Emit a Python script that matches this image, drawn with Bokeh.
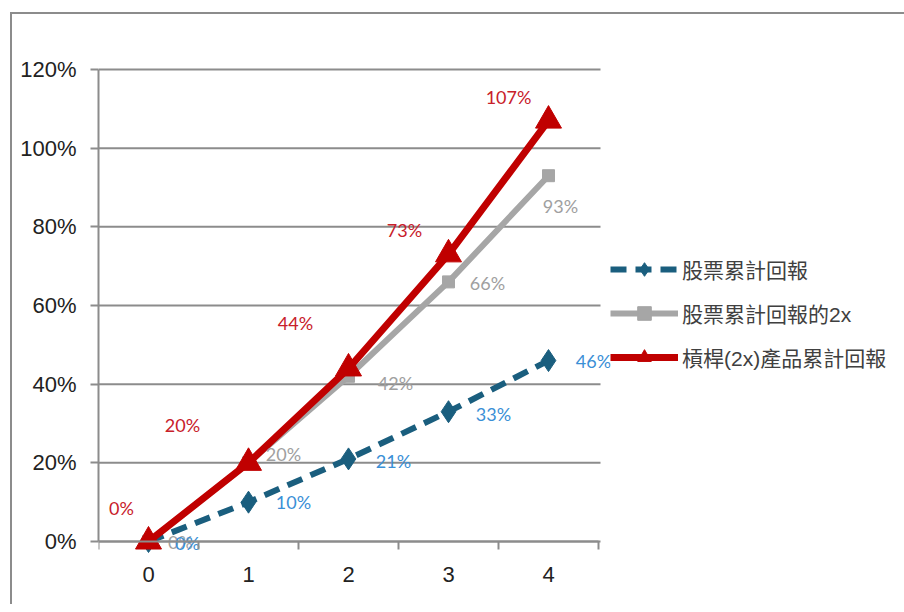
from bokeh.plotting import figure
from bokeh.models import (ColumnDataSource, FixedTicker, Legend, LegendItem,
                          CustomJSTickFormatter, Range1d)
from bokeh.core.properties import value
from bokeh.embed import file_html
from bokeh.resources import INLINE

# ---- data ----
years = [0, 1, 2, 3, 4]
stock = [0, 10, 21, 33, 46]
stock_2x = [0, 20, 42, 66, 93]
lev_2x = [0, 20, 44, 73, 107]
series_names = ["股票累計回報", "股票累計回報的2x", "槓桿(2x)產品累計回報"]
y_ticks = [0, 20, 40, 60, 80, 100, 120]

# ---- label offsets (screen px, dx right, dy down) ----
stock_off_x = [39, 45, 45, 45, 45]
stock_off_y = [1, 0, 2, 2, 0]
s2x_off_x = [32, 35, 47, 39, 12]
s2x_off_y = [0, -9, 7, 1, 30]
lev_off_x = [-27, -66, -53, -44, -40]
lev_off_y = [-34, -38, -45, -24, -24]

BLUE = "#1a5e7e"
GRAY = "#a6a6a6"
RED = "#c00000"
BLUE_TXT = "#3a8fd6"
GRAY_TXT = "#a0a0a0"
RED_TXT = "#c8202a"
AX = "#8c8c8c"

p = figure(frame_width=512, frame_height=540,
           x_range=Range1d(-0.5, 4.62), y_range=Range1d(-12.2, 125.08),
           output_backend="svg", toolbar_location=None,
           min_border_left=86, min_border_right=286, min_border_top=35,
           min_border_bottom=15)
p.styles = {"border-left": "2px solid #8c8c8c", "border-top": "2px solid #8c8c8c",
            "margin-left": "10px", "margin-top": "12px"}
p.outline_line_color = None
p.background_fill_color = "white"
p.border_fill_color = "white"

# gridlines (limited to the category area)
p.xgrid.grid_line_color = None
p.ygrid.grid_line_color = None
p.segment(x0=[-0.5] * len(y_ticks), x1=[4.52] * len(y_ticks), y0=y_ticks, y1=y_ticks,
          line_color=AX, line_width=2, level="underlay")

# axes
p.xaxis.ticker = FixedTicker(ticks=years, minor_ticks=[-0.5, 0.5, 1.5, 2.5, 3.5, 4.5])
p.xaxis.fixed_location = 0
p.xaxis.bounds = (-0.5, 4.5)
p.xaxis.major_tick_out = 0
p.xaxis.major_tick_in = 0
p.xaxis.minor_tick_out = 8
p.xaxis.minor_tick_in = 0
p.xaxis.minor_tick_line_color = AX
p.xaxis.minor_tick_line_width = 2
p.xaxis.axis_line_color = AX
p.xaxis.axis_line_width = 2
p.xaxis.major_label_text_font = "Liberation Sans"
p.xaxis.major_label_text_font_size = "22px"
p.xaxis.major_label_text_color = "#222222"
p.xaxis.major_label_standoff = 17

p.yaxis.ticker = FixedTicker(ticks=y_ticks)
p.yaxis.bounds = (0, 120)
p.yaxis.formatter = CustomJSTickFormatter(code="return tick.toFixed(0) + '%';")
p.yaxis.major_tick_out = 8
p.yaxis.major_tick_in = 0
p.yaxis.minor_tick_out = 0
p.yaxis.minor_tick_in = 0
p.yaxis.major_tick_line_color = AX
p.yaxis.major_tick_line_width = 2
p.yaxis.axis_line_color = AX
p.yaxis.axis_line_width = 2
p.yaxis.major_label_text_font = "Liberation Sans"
p.yaxis.major_label_text_font_size = "22px"
p.yaxis.major_label_text_color = "#222222"
p.yaxis.major_label_standoff = 14

# series
src_b = ColumnDataSource(dict(x=years, y=stock, t=[f"{v}%" for v in stock],
                              dx=stock_off_x, dy=stock_off_y))
src_g = ColumnDataSource(dict(x=years, y=stock_2x, t=[f"{v}%" for v in stock_2x],
                              dx=s2x_off_x, dy=s2x_off_y))
src_r = ColumnDataSource(dict(x=years, y=lev_2x, t=[f"{v}%" for v in lev_2x],
                              dx=lev_off_x, dy=lev_off_y))

lg = p.line("x", "y", source=src_g, line_color=GRAY, line_width=6)
sg = p.scatter("x", "y", source=src_g, marker="square", size=12,
               fill_color=GRAY, line_color=GRAY)
lb = p.line("x", "y", source=src_b, line_color=BLUE, line_width=6,
            line_dash="16 9")
sb = p.scatter("x", "y", source=src_b, marker="diamond", size=22,
               fill_color=BLUE, line_color=BLUE)
lr = p.line("x", "y", source=src_r, line_color=RED, line_width=7)
sr = p.scatter("x", "y", source=src_r, marker="triangle", size=26,
               fill_color=RED, line_color=RED)

label_font = value("Lato")
p.text("x", "y", text="t", source=src_g, x_offset="dx", y_offset="dy",
       text_align="center", text_baseline="middle", text_font=label_font,
       text_font_size="18px", text_color=GRAY_TXT)
p.text("x", "y", text="t", source=src_b, x_offset="dx", y_offset="dy",
       text_align="center", text_baseline="middle", text_font=label_font,
       text_font_size="18px", text_color=BLUE_TXT)
p.text("x", "y", text="t", source=src_r, x_offset="dx", y_offset="dy",
       text_align="center", text_baseline="middle", text_font=label_font,
       text_font_size="18px", text_color=RED_TXT)

legend = Legend(items=[
    LegendItem(label=series_names[0], renderers=[lb, sb]),
    LegendItem(label=series_names[1], renderers=[lg, sg]),
    LegendItem(label=series_names[2], renderers=[lr, sr]),
], location=(0, 215))
legend.border_line_color = None
legend.background_fill_alpha = 0
legend.glyph_width = 68
legend.glyph_height = 34
legend.label_text_font = "Liberation Sans, Noto Sans CJK TC"
legend.label_text_font_size = "21px"
legend.label_text_color = "#404040"
legend.label_standoff = 4
legend.spacing = 10
legend.padding = 0
legend.margin = 0
p.add_layout(legend, "right")

open("out.html", "w").write(file_html(p, INLINE))
